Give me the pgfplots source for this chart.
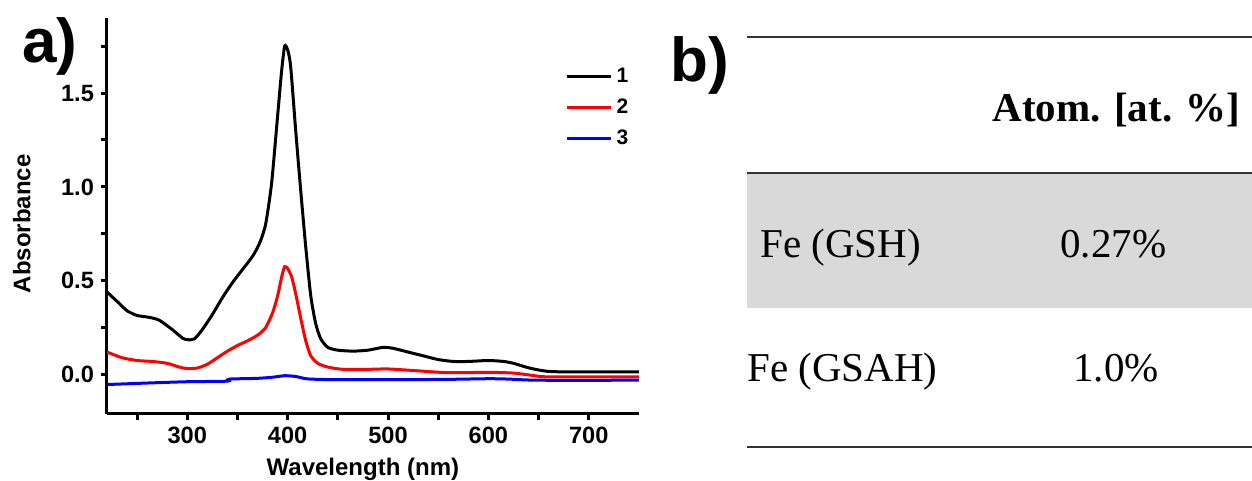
\documentclass[border=0pt]{standalone}
\usepackage{fontspec}
\setmainfont{Liberation Serif}
\newfontfamily\arial{Liberation Sans}
\usepackage{pgfplots}
\pgfplotsset{compat=1.18}
\usepackage{pgfplotstable}
\definecolor{rowgray}{HTML}{D9D9D9}
\definecolor{rulegray}{HTML}{333333}

\pgfplotstableread{
x y
220 0.44
230 0.39
240 0.34
250 0.315
262 0.305
272 0.29
285 0.24
295 0.195
300 0.186
307 0.19
315 0.24
325 0.32
335 0.41
345 0.49
355 0.56
365 0.63
372 0.70
378 0.80
384 1.02
390 1.38
394 1.62
397 1.75
400 1.73
403 1.64
408 1.30
413 0.98
418 0.68
423 0.42
428 0.27
433 0.19
440 0.145
450 0.13
465 0.125
480 0.13
495 0.145
505 0.14
520 0.12
535 0.10
550 0.08
565 0.07
580 0.07
600 0.075
615 0.07
625 0.06
640 0.036
655 0.02
670 0.015
750 0.015
}\curveone

\pgfplotstableread{
x y
220 0.12
235 0.09
250 0.075
265 0.07
280 0.06
292 0.04
300 0.032
310 0.035
320 0.055
330 0.09
340 0.125
350 0.155
360 0.18
370 0.21
378 0.25
385 0.33
390 0.42
394 0.52
397 0.575
400 0.565
404 0.52
408 0.43
413 0.30
418 0.18
423 0.10
430 0.06
440 0.04
455 0.028
480 0.028
500 0.03
530 0.02
560 0.01
600 0.012
625 0.008
645 -0.005
660 -0.012
750 -0.012
}\curvetwo

\pgfplotstableread{
x y
220 -0.053
260 -0.045
300 -0.038
340 -0.035
342 -0.024
370 -0.02
385 -0.014
397 -0.006
408 -0.01
420 -0.023
450 -0.027
550 -0.026
600 -0.022
620 -0.024
650 -0.03
750 -0.03
}\curvethree

\begin{document}
\begin{tikzpicture}
\path[use as bounding box] (0pt,0pt) rectangle (626pt,240.5pt);

\begin{axis}[
  at={(53.5pt,33.5pt)}, anchor=south west,
  scale only axis, width=266pt, height=198pt,
  xmin=220, xmax=750, ymin=-0.21, ymax=1.9,
  separate axis lines,
  axis x line=bottom, axis y line=left,
  every outer x axis line/.append style={-, line width=1.5pt},
  every outer y axis line/.append style={-, line width=1.5pt},
  tick align=outside,
  xtick={300,400,500,600,700},
  minor xtick={250,350,450,550,650},
  ytick={0,0.5,1,1.5},
  minor ytick={0.25,0.75,1.25,1.75},
  major tick length=3pt, minor tick length=3pt,
  every tick/.style={line width=1.5pt, black},
  yticklabel style={/pgf/number format/.cd, fixed, fixed zerofill, precision=1},
  /pgf/number format/assume math mode=true,
  ticklabel style={font=\arial\bfseries\fontsize{11.8}{12}\selectfont},
  xlabel={Wavelength (nm)},
  ylabel={Absorbance},
  label style={font=\arial\bfseries\fontsize{12}{13}\selectfont},
  xlabel style={at={(axis description cs:0.481,-0.111)}, anchor=north, inner sep=0pt},
  ylabel style={at={(axis description cs:-0.16,0.48)}, anchor=center, inner sep=0pt},
  legend style={at={(axis description cs:0.85,0.895)}, anchor=north west, draw=none, fill=none,
    font=\arial\bfseries\fontsize{10.5}{11}\selectfont, row sep=2.6pt,
    legend cell align=left},
  legend image code/.code={\draw[#1] (0pt,0pt) -- (22pt,0pt);},
  every axis plot/.append style={line width=1.5pt},
]
\addplot[black, smooth, tension=0.4] table[x=x, y=y] {\curveone};
\addlegendentry{1}
\addplot[red, smooth, tension=0.4] table[x=x, y=y] {\curvetwo};
\addlegendentry{2}
\addplot[blue, smooth, tension=0.4] table[x=x, y=y] {\curvethree};
\addlegendentry{3}
\end{axis}

% panel labels
\node[anchor=base west, inner sep=0pt, font=\arial\bfseries\fontsize{31}{31}\selectfont] at (11pt,209pt) {a)};
\node[anchor=base west, inner sep=0pt, font=\arial\bfseries\fontsize{31}{31}\selectfont] at (335pt,199.5pt) {b)};

% table b)
\fill[rowgray] (373.5pt,86.5pt) rectangle (626pt,154pt);
\draw[rulegray, line width=1.2pt] (373.5pt,222pt) -- (626pt,222pt);
\draw[rulegray, line width=1.2pt] (373.5pt,154pt) -- (626pt,154pt);
\draw[rulegray, line width=1.2pt] (373.5pt,17pt) -- (626pt,17pt);
\node[anchor=base west, inner sep=0pt, font=\bfseries\fontsize{20.5}{21}\selectfont] at (496pt,179.5pt) {Atom. [at. \%]};
\node[anchor=base west, inner sep=0pt, font=\fontsize{20.5}{21}\selectfont] at (380pt,111.5pt) {Fe (GSH)};
\node[anchor=base west, inner sep=0pt, font=\fontsize{20.5}{21}\selectfont] at (530pt,111.5pt) {0.27\%};
\node[anchor=base west, inner sep=0pt, font=\fontsize{20.5}{21}\selectfont] at (373.5pt,49.5pt) {Fe (GSAH)};
\node[anchor=base west, inner sep=0pt, font=\fontsize{20.5}{21}\selectfont] at (536.5pt,49.5pt) {1.0\%};
\end{tikzpicture}
\end{document}
